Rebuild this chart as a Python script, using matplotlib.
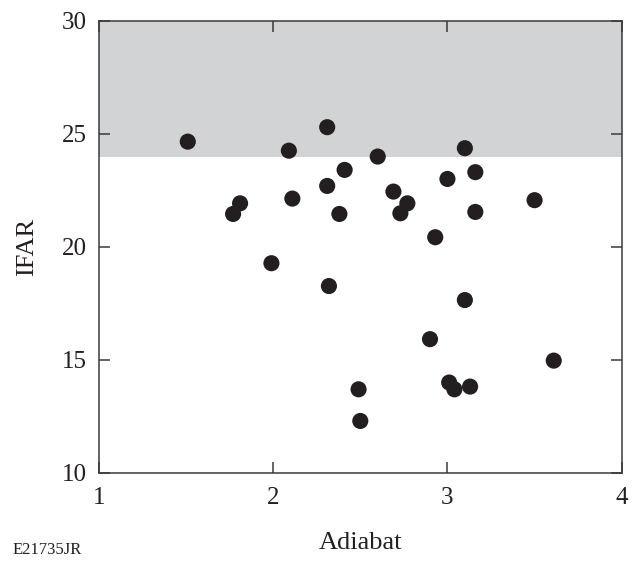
import matplotlib
matplotlib.use("Agg")
import matplotlib.pyplot as plt

# Adiabat vs. IFAR for each shot
adiabat = [1.51, 1.77, 1.81, 1.99, 2.09, 2.11, 2.31, 2.31, 2.32, 2.38,
           2.41, 2.49, 2.50, 2.60, 2.69, 2.73, 2.77, 2.90, 2.93, 3.00,
           3.01, 3.04, 3.10, 3.10, 3.13, 3.16, 3.16, 3.50, 3.61]
ifar = [24.66, 21.46, 21.93, 19.28, 24.26, 22.14, 25.30, 22.70, 18.27, 21.46,
        23.41, 13.70, 12.30, 24.00, 22.45, 21.49, 21.93, 15.92, 20.43, 23.01,
        14.00, 13.70, 24.37, 17.65, 13.82, 23.31, 21.55, 22.07, 14.97]

# shaded band above the IFAR threshold
band_low, band_high = 24, 30

x_ticks = [1, 2, 3, 4]
y_ticks = [10, 15, 20, 25, 30]

plt.rcParams['font.family'] = ['Liberation Serif', 'DejaVu Serif']

fig = plt.figure(figsize=(6.34, 5.61), dpi=100)
ax = fig.add_axes([0.156, 0.157, 0.8246, 0.8056])

ax.axhspan(band_low, band_high, color='#d1d3d4', zorder=0, lw=0)
ax.scatter(adiabat, ifar, s=135, color='#231f20', edgecolors='none', zorder=3)

ax.set_xlim(1, 4)
ax.set_ylim(10, 30)
ax.set_xticks(x_ticks)
ax.set_yticks(y_ticks)

for sp in ax.spines.values():
    sp.set_color('#3a3a3a')
    sp.set_linewidth(1.1)

ax.tick_params(direction='in', length=8, width=1.1, color='#3a3a3a',
               top=True, right=True, labelsize=18, labelcolor='#231f20')
ax.tick_params(axis='x', pad=10)
ax.tick_params(axis='y', pad=9)

ax.set_xlabel('Adiabat', fontsize=19, color='#231f20', labelpad=17)
ax.set_ylabel('IFAR', fontsize=19, color='#231f20', labelpad=17)

fig.text(0.02, 0.013, 'E21735JR', fontsize=12, color='#231f20')

fig.savefig('out.png', dpi=100)
